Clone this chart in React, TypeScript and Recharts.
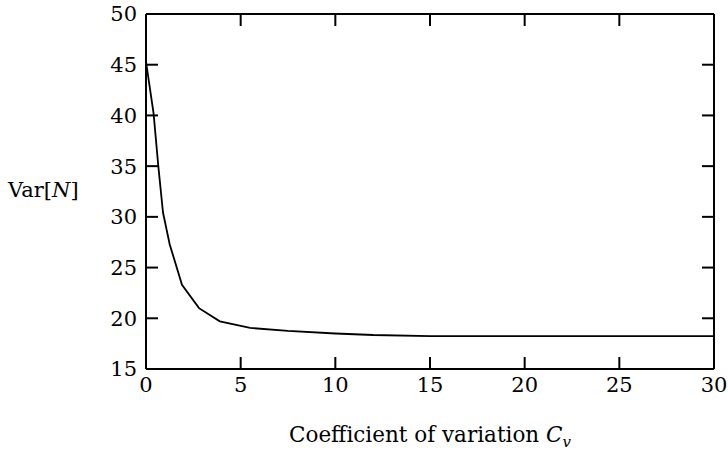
import { ComposedChart, Line, Scatter, XAxis, YAxis, Label } from 'recharts';

// Var[N] against the coefficient of variation
const cv = [0, 0.4, 0.65, 0.9, 1.25, 1.9, 2.8, 3.9, 5.5, 7.5, 10, 12, 15, 20, 25, 30];
const varN = [45.3, 40.2, 35, 30.4, 27.3, 23.3, 21.0, 19.7, 19.05, 18.75, 18.5, 18.35, 18.25, 18.25, 18.25, 18.25];

const xTicks = [0, 5, 10, 15, 20, 25, 30];
const yTicks = [15, 20, 25, 30, 35, 40, 45, 50];

const data = cv.map((c, i) => ({ cv: c, v: varN[i] }));
// anchor points for the inward x tick marks on the bottom and top borders
const bottomMarks = xTicks.map((t) => ({ cv: t, v: 15 }));
const topMarks = xTicks.map((t) => ({ cv: t, v: 50 }));

const font = "'DejaVu Serif', serif";
const frame = { stroke: '#000', strokeWidth: 2 };
const tickFont = { fontSize: 21, fill: '#000', fontFamily: font };
const TICK = 12;

function YTitle(props: any) {
  const vb = props.viewBox;
  return (
    <text x={vb.x + 8} y={vb.y + vb.height / 2 + 5} fontSize={21} fontFamily={font} fill="#000">
      Var[<tspan fontStyle="italic">N</tspan>]
    </text>
  );
}

function XTitle(props: any) {
  const vb = props.viewBox;
  return (
    <text
      x={vb.x + vb.width / 2}
      y={vb.y + 73}
      textAnchor="middle"
      fontSize={21.5}
      fontFamily={font}
      fill="#000"
    >
      Coefficient of variation <tspan fontStyle="italic">C</tspan>
      <tspan fontStyle="italic" fontSize={15} dy={5}>v</tspan>
    </text>
  );
}

const UpMark = (p: any) => (
  <line x1={p.cx} x2={p.cx} y1={p.cy} y2={p.cy - TICK} stroke="#000" strokeWidth={2} />
);
const DownMark = (p: any) => (
  <line x1={p.cx} x2={p.cx} y1={p.cy} y2={p.cy + TICK} stroke="#000" strokeWidth={2} />
);

const noLabel = () => <g />;

export default function App() {
  return (
    <div style={{ width: 728, height: 452, background: '#fff' }}>
      <style>{'body{margin:0}'}</style>
      <ComposedChart width={728} height={452} data={data} margin={{ top: 0, right: 0, bottom: 0, left: 0 }}>
        <XAxis
          dataKey="cv"
          type="number"
          domain={[0, 30]}
          ticks={xTicks}
          height={83}
          axisLine={frame}
          tickLine={false}
          tickSize={0}
          tickMargin={8}
          tick={tickFont}
          interval={0}
        >
          <Label content={XTitle} />
        </XAxis>
        <XAxis
          xAxisId="top"
          orientation="top"
          dataKey="cv"
          type="number"
          domain={[0, 30]}
          ticks={xTicks}
          height={14}
          axisLine={frame}
          tickLine={false}
          tick={noLabel}
          interval={0}
        />
        <YAxis
          type="number"
          domain={[15, 50]}
          ticks={yTicks}
          width={146}
          axisLine={frame}
          tickLine={frame}
          tickSize={-TICK}
          tickMargin={21}
          tick={tickFont}
          interval={0}
        >
          <Label content={YTitle} />
        </YAxis>
        <YAxis
          yAxisId="right"
          orientation="right"
          type="number"
          domain={[15, 50]}
          ticks={yTicks}
          width={14}
          axisLine={frame}
          tickLine={frame}
          tickSize={-TICK}
          tick={noLabel}
          interval={0}
        />
        {/* invisible copy so the top/right border axes get a scale */}
        <Line xAxisId="top" yAxisId="right" dataKey="v" stroke="none" dot={false} legendType="none" isAnimationActive={false} />
        <Scatter data={bottomMarks} dataKey="v" shape={UpMark} isAnimationActive={false} legendType="none" />
        <Scatter data={topMarks} dataKey="v" shape={DownMark} isAnimationActive={false} legendType="none" />
        <Line
          type="linear"
          dataKey="v"
          stroke="#000"
          strokeWidth={1.8}
          dot={false}
          isAnimationActive={false}
        />
      </ComposedChart>
    </div>
  );
}
